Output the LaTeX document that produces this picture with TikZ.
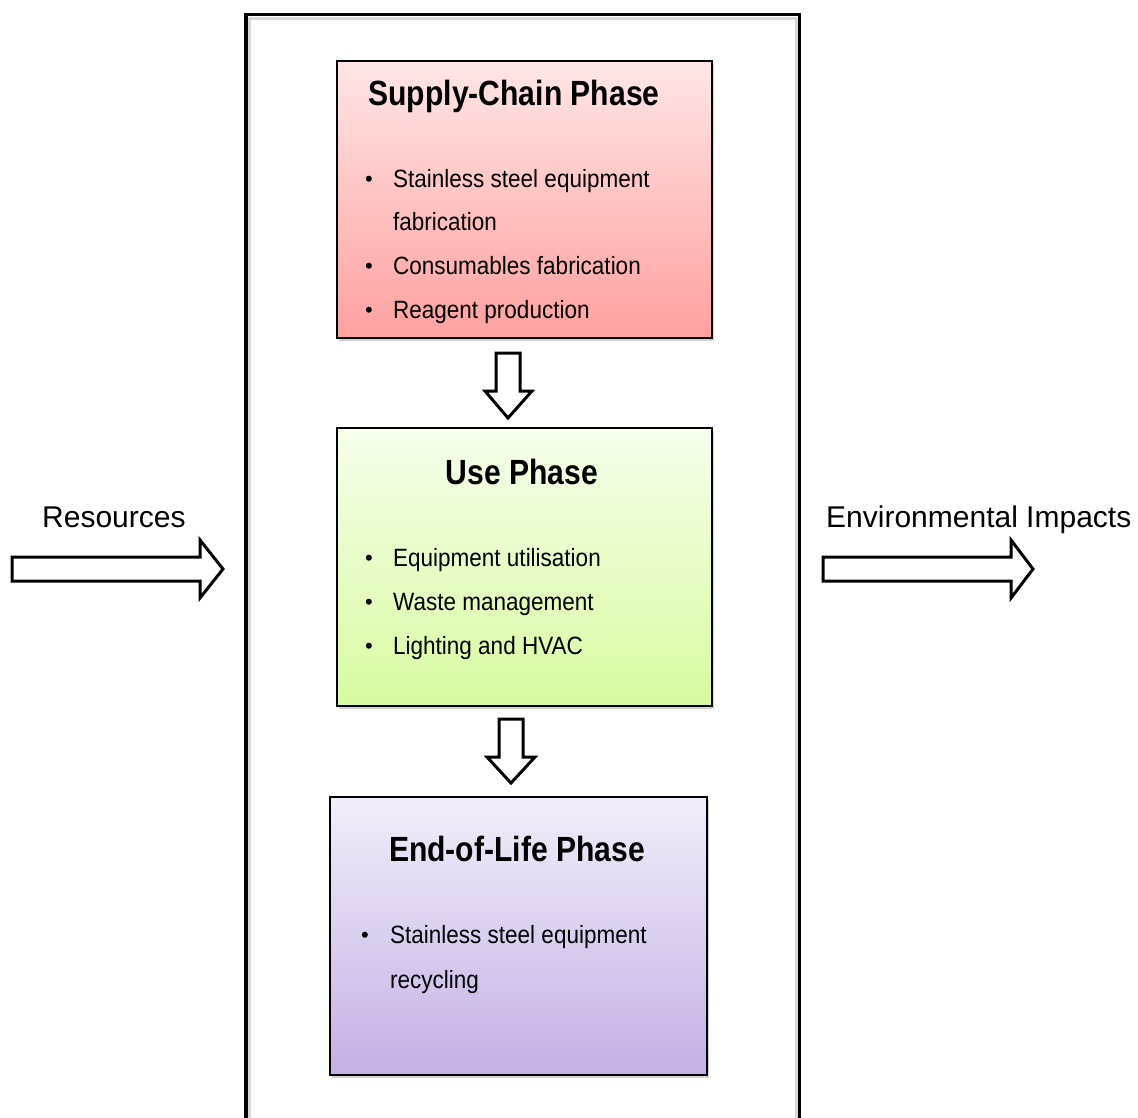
\documentclass[tikz,border=0pt]{standalone}
\usepackage{fontspec}
\setmainfont{Liberation Sans}
\newfontfamily\bodyfont[FakeStretch=0.9]{Liberation Sans}
\newfontfamily\headfont[FakeStretch=0.86]{Liberation Sans}
\usetikzlibrary{shadows,calc}

\definecolor{scTop}{RGB}{255,230,230}
\definecolor{scBot}{RGB}{255,160,160}
\definecolor{usTop}{RGB}{246,255,236}
\definecolor{usBot}{RGB}{216,250,160}
\definecolor{eolTop}{RGB}{242,238,250}
\definecolor{eolBot}{RGB}{196,176,228}

\tikzset{
  phasebox/.style={draw=black, line width=2pt, rectangle, inner sep=0pt,
    drop shadow={shadow xshift=2pt, shadow yshift=-3pt, opacity=0.35, fill=gray}},
  title/.style={anchor=base, inner sep=0pt, font=\headfont\bfseries\fontsize{35}{40}\selectfont},
  item/.style={anchor=base west, inner sep=0pt, font=\bodyfont\fontsize{25}{30}\selectfont},
  dot/.style={anchor=base west, inner sep=0pt, font=\fontsize{22}{26}\selectfont},
  side/.style={anchor=base west, inner sep=0pt, font=\fontsize{30}{36}\selectfont},
  blockarrow/.style={draw=black, fill=white, line width=3pt, line join=miter},
}

\begin{document}
\begin{tikzpicture}[x=1pt, y=-1pt]
  \useasboundingbox (0,0) rectangle (1138,1117);

  % system boundary, open at the bottom
  \begin{scope}
    \clip (0,0) rectangle (1138,1117);
    \draw[gray!30, line width=3pt] (249,1130) -- (249,18) -- (796,18) -- (796,1130);
    \draw[black, line width=3.5pt] (246,1130) -- (246,14.5) -- (799.5,14.5) -- (799.5,1130);
  \end{scope}

  % phases
  \node[phasebox, top color=scTop, bottom color=scBot,
        minimum width=375pt, minimum height=277pt] (sc) at (524.5,199.5) {};
  \node[phasebox, top color=usTop, bottom color=usBot,
        minimum width=375pt, minimum height=278pt] (us) at (524.5,567) {};
  \node[phasebox, top color=eolTop, bottom color=eolBot,
        minimum width=377pt, minimum height=278pt] (eol) at (518.5,936) {};

  % supply-chain phase text
  \node[title] (scT) at (514,105) {Supply-Chain Phase};
  \node[dot] (scB1) at (365,186) {•};
  \node[item] (sc1) at (393,187) {Stainless steel equipment};
  \node[item] (sc2) at (393,230) {fabrication};
  \node[dot] (scB2) at (365,273) {•};
  \node[item] (sc3) at (393,274) {Consumables fabrication};
  \node[dot] (scB3) at (365,317) {•};
  \node[item] (sc4) at (393,318) {Reagent production};

  % use phase text
  \node[title] (usT) at (522,484) {Use Phase};
  \node[dot] (usB1) at (365,565) {•};
  \node[item] (us1) at (393,566) {Equipment utilisation};
  \node[dot] (usB2) at (365,609) {•};
  \node[item] (us2) at (393,610) {Waste management};
  \node[dot] (usB3) at (365,653) {•};
  \node[item] (us3) at (393,654) {Lighting and HVAC};

  % end-of-life phase text
  \node[title] (eolT) at (517,861) {End-of-Life Phase};
  \node[dot] (eolB1) at (361,942) {•};
  \node[item] (eol1) at (390,943) {Stainless steel equipment};
  \node[item] (eol2) at (390,988) {recycling};

  % flows between phases
  \draw[blockarrow] ($(sc.south)+(-28.5,14)$) -- ++(24,0) -- ++(0,38) -- ++(12,0)
        -- ($(sc.south)+(-16.5,79)$) -- ($(sc.south)+(-39.5,52)$) -- ++(11,0) -- cycle;
  \draw[blockarrow] ($(us.south)+(-25.5,12)$) -- ++(24,0) -- ++(0,38) -- ++(12,0)
        -- ($(us.south)+(-13.5,76)$) -- ($(us.south)+(-37.5,50)$) -- ++(12,0) -- cycle;

  % inputs and outputs
  \node[side] (res) at (42,527) {Resources};
  \node[side] (env) at (826,527) {Environmental Impacts};
  \coordinate (inTip) at (223,569);
  \coordinate (outTip) at (1033,569);
  \draw[blockarrow] (12,557) -- (200,557) -- (200,540) -- (inTip) -- (200,598) -- (200,581) -- (12,581) -- cycle;
  \draw[blockarrow] (823,557) -- (1011,557) -- (1011,540) -- (outTip) -- (1011,598) -- (1011,581) -- (823,581) -- cycle;
\end{tikzpicture}
\end{document}
